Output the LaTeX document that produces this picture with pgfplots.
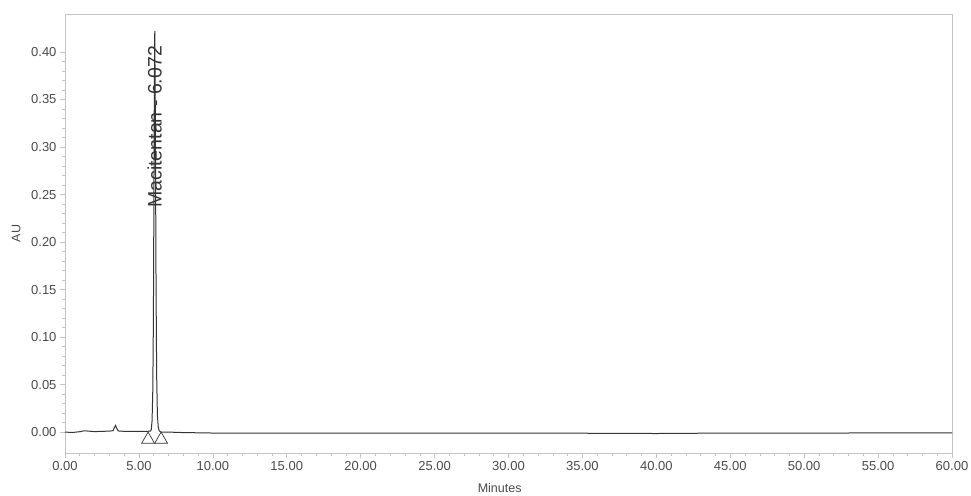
\documentclass[border=0pt]{standalone}
\usepackage{pgfplots}
\pgfplotsset{compat=1.18}
\usepackage{fontspec}
\setmainfont{Liberation Sans}
\definecolor{trace}{HTML}{333333}
\definecolor{frame}{HTML}{C4C4C4}
\definecolor{ticktext}{HTML}{4A4A4A}

\begin{document}
\begin{tikzpicture}
\begin{axis}[
  scale only axis,
  width=887pt, height=439pt,
  xmin=0, xmax=60,
  ymin=-0.022, ymax=0.44,
  xtick={0,5,...,60},
  ytick={0,0.05,...,0.401},
  minor x tick num=4,
  minor y tick num=4,
  tick align=outside,
  major tick length=5pt,
  minor tick length=3pt,
  axis line style={frame, line width=0.8pt},
  every tick/.style={frame, line width=0.6pt},
  xtick pos=bottom, ytick pos=left,
  /pgf/number format/assume math mode=true,
  xticklabel style={/pgf/number format/.cd, fixed, fixed zerofill, precision=2},
  yticklabel style={/pgf/number format/.cd, fixed, fixed zerofill, precision=2},
  tick label style={font=\fontsize{13}{15}\selectfont, text=ticktext},
  label style={font=\fontsize{12.5}{15}\selectfont, text=ticktext},
  xlabel={Minutes},
  ylabel={AU},
  xlabel style={at={(axis description cs:0.49,-0.08)}, anchor=center},
  ylabel style={at={(axis description cs:-0.055,0.5)}, anchor=center},
  clip=false,
]
% detector trace
\addplot[trace, line width=1pt] coordinates {
  (0.00,0.0000) (0.50,-0.0004) (1.00,0.0004) (1.30,0.0014) (1.60,0.0010)
  (2.00,0.0005) (2.50,0.0008) (3.00,0.0010) (3.25,0.0015) (3.35,0.0050)
  (3.42,0.0070) (3.50,0.0040) (3.60,0.0012) (4.00,0.0008) (4.50,0.0008)
  (5.00,0.0008) (5.50,0.0008) (5.78,0.0010) (5.84,0.0030) (5.89,0.0120)
  (5.94,0.0450) (5.98,0.1200) (6.01,0.2300) (6.04,0.3500) (6.072,0.4220)
  (6.10,0.3600) (6.13,0.2600) (6.16,0.1500) (6.20,0.0600) (6.25,0.0180)
  (6.31,0.0050) (6.38,0.0012) (6.50,0.0000) (7.00,0.0000) (8.00,-0.0005)
  (10.00,-0.0010) (15.00,-0.0012) (20.00,-0.0010) (25.00,-0.0012)
  (30.00,-0.0010) (35.00,-0.0012) (40.00,-0.0015) (45.00,-0.0010)
  (50.00,-0.0012) (55.00,-0.0008) (60.00,-0.0008)
};
% integration start and end markers
\addplot[only marks, mark=triangle, mark size=7.5pt, trace, mark options={line width=0.7pt, fill=white}]
  coordinates {(5.62,-0.0079) (6.50,-0.0079)};
% peak label
\node[rotate=90, anchor=west, inner sep=0pt, text=trace,
      font=\fontsize{19.5}{21}\selectfont] at (axis cs:6.072,0.236) {Macitentan - 6.072};
\end{axis}
\pgfresetboundingbox
\path ([xshift=-65pt, yshift=-43pt]current axis.south west)
  rectangle ([xshift=19pt, yshift=14pt]current axis.north east);
\end{tikzpicture}
\end{document}
